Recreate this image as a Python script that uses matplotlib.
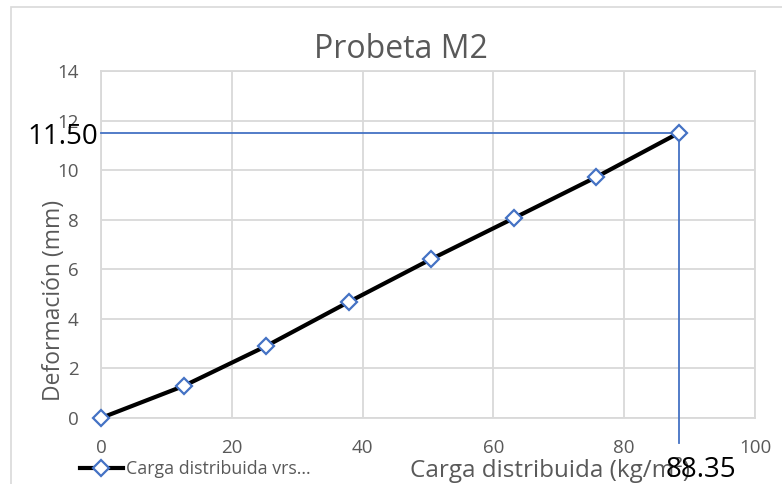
import matplotlib
matplotlib.use("Agg")
import matplotlib.pyplot as plt
from matplotlib.lines import Line2D
from matplotlib.patches import Rectangle

carga = [0, 12.62, 25.24, 37.86, 50.48, 63.10, 75.72, 88.35]
deformacion = [0, 1.29, 2.90, 4.68, 6.41, 8.06, 9.72, 11.50]
x_ticks = [0, 20, 40, 60, 80, 100]
y_ticks = [0, 2, 4, 6, 8, 10, 12, 14]
x_max_val = 88.35
y_max_val = 11.50

plt.rcParams['font.family'] = ['Open Sans', 'DejaVu Sans']

W, H = 782, 484
fig = plt.figure(figsize=(W / 100, H / 100), dpi=100)

# chart area border
fig.patches.append(Rectangle((11 / W, -0.1), 1.2, 1 - 7 / H + 0.1, transform=fig.transFigure,
                             fill=False, edgecolor='#d9d9d9', lw=1.2, zorder=0))

ax = fig.add_axes([101 / W, 1 - 418 / H, (755 - 101) / W, (418 - 71) / H])
ax.set_xlim(0, 100)
ax.set_ylim(0, 14)
ax.set_xticks(x_ticks)
ax.set_yticks(y_ticks)
ax.grid(True, color='#d9d9d9', lw=1.3)
ax.set_axisbelow(True)
for s in ax.spines.values():
    s.set_color('#d9d9d9')
    s.set_linewidth(1.3)
ax.tick_params(length=0, labelsize=13.5, colors='#595959')
ax.tick_params(axis='x', pad=15)
ax.tick_params(axis='y', pad=16)

ax.plot(carga, deformacion, color='black', lw=3.0, marker='D', markersize=8.5,
        markerfacecolor='white', markeredgecolor='#4472C4', markeredgewidth=1.6,
        zorder=5, clip_on=False)

blue = '#4472C4'
ax.plot([0, x_max_val], [y_max_val, y_max_val], color=blue, lw=1.3, zorder=4, clip_on=False)
ax.plot([x_max_val, x_max_val], [y_max_val, -1.0], color=blue, lw=1.3, zorder=4, clip_on=False)

fig.text(401 / W, 1 - 50 / H, 'Probeta M2', ha='center', va='center',
         fontsize=23, color='#595959')

fig.text(54 / W, 1 - 300 / H, 'Deformación (mm)', rotation=90, ha='center', va='center',
         fontsize=16.5, color='#595959')
fig.text(550 / W, 1 - 470 / H, 'Carga distribuida (kg/m²)', ha='center', va='center',
         fontsize=17.5, color='#595959')

fig.text(63 / W, 1 - 137 / H, f'{y_max_val:.2f}', ha='center', va='center', fontsize=20, color='black')
fig.text(701 / W, 1 - 470 / H, f'{x_max_val:.2f}', ha='center', va='center', fontsize=20, color='black')

# legend
handle = Line2D([], [], color='black', lw=3.0, marker='D', markersize=8.5,
                markerfacecolor='white', markeredgecolor='#4472C4', markeredgewidth=1.6)
leg = fig.legend([handle], ['Carga distribuida vrs...'], loc='center left',
                 bbox_to_anchor=(80 / W, 1 - 469 / H), frameon=False, fontsize=12.8,
                 handlelength=2.4, handletextpad=0.2, borderaxespad=0, borderpad=0)
for t in leg.get_texts():
    t.set_color('#595959')

fig.savefig('out.png', dpi=100)
